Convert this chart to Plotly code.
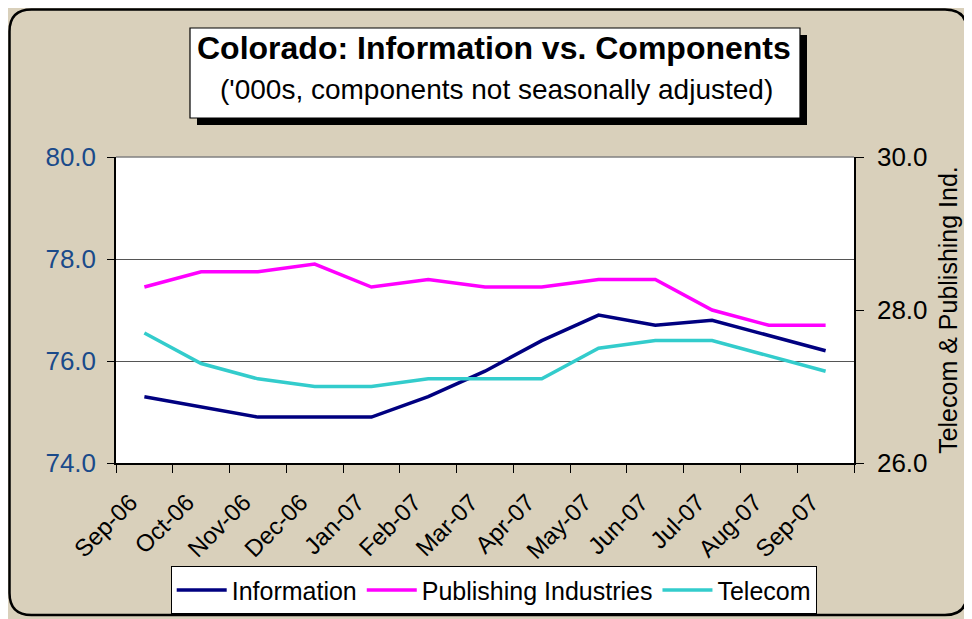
import plotly.graph_objects as go

months = ["Sep-06", "Oct-06", "Nov-06", "Dec-06", "Jan-07", "Feb-07", "Mar-07",
          "Apr-07", "May-07", "Jun-07", "Jul-07", "Aug-07", "Sep-07"]
information = [75.3, 75.1, 74.9, 74.9, 74.9, 75.3, 75.8, 76.4, 76.9, 76.7, 76.8, 76.5, 76.2]
publishing = [28.3, 28.5, 28.5, 28.6, 28.3, 28.4, 28.3, 28.3, 28.4, 28.4, 28.0, 27.8, 27.8]
telecom = [27.7, 27.3, 27.1, 27.0, 27.0, 27.1, 27.1, 27.1, 27.5, 27.6, 27.6, 27.4, 27.2]

# the page puts the figure 8px in from the top-left corner
OFF = 8
W, H = 964, 611
L, R, T, B = 116, 854, 157, 463  # plot area, page pixels
BG = "#d9d0bb"
FONT = "Liberation Sans, Arial, sans-serif"


def px(x):
    return (x - L) / (R - L)


def py(y):
    return (B - y) / (B - T)


fig = go.Figure()
fig.add_trace(go.Scatter(x=months, y=information, name="Information", mode="lines",
                         line=dict(color="#000080", width=3.5)))
fig.add_trace(go.Scatter(x=months, y=publishing, name="Publishing Industries", mode="lines",
                         line=dict(color="#ff00ff", width=3.5), yaxis="y2"))
fig.add_trace(go.Scatter(x=months, y=telecom, name="Telecom", mode="lines",
                         line=dict(color="#33cccc", width=3.5), yaxis="y2"))

# outer rounded frame
r = 22
x0, y0, x1, y1 = OFF + 1.5, OFF + 1.5, 967, 615
frame = (f"M {px(x0 + r)},{py(y0)} L {px(x1 - r)},{py(y0)} "
         f"Q {px(x1)},{py(y0)} {px(x1)},{py(y0 + r)} L {px(x1)},{py(y1 - r)} "
         f"Q {px(x1)},{py(y1)} {px(x1 - r)},{py(y1)} L {px(x0 + r)},{py(y1)} "
         f"Q {px(x0)},{py(y1)} {px(x0)},{py(y1 - r)} L {px(x0)},{py(y0 + r)} "
         f"Q {px(x0)},{py(y0)} {px(x0 + r)},{py(y0)} Z")

shapes = [
    dict(type="path", path=frame, xref="paper", yref="paper",
         line=dict(color="black", width=2.5), layer="below"),
    # title box shadow and box
    dict(type="rect", xref="paper", yref="paper",
         x0=px(197), x1=px(807), y0=py(125), y1=py(35),
         fillcolor="black", line=dict(width=0)),
    dict(type="rect", xref="paper", yref="paper",
         x0=px(190), x1=px(800), y0=py(118), y1=py(28),
         fillcolor="white", line=dict(color="black", width=1.2)),
    # top border of plot area
    dict(type="line", xref="paper", yref="paper", x0=0, x1=1, y0=1, y1=1,
         line=dict(color="#808080", width=1.5)),
]

annotations = [
    dict(text="<b>Colorado: Information vs. Components</b>", xref="paper", yref="paper",
         x=px(494), y=py(48), xanchor="center", yanchor="middle", showarrow=False,
         font=dict(size=32, color="black", family=FONT)),
    dict(text="('000s, components not seasonally adjusted)", xref="paper", yref="paper",
         x=px(496), y=py(90), xanchor="center", yanchor="middle", showarrow=False,
         font=dict(size=28, color="black", family=FONT)),
]

fig.update_layout(
    width=W, height=H,
    margin=dict(l=L - OFF, r=W + OFF - R, t=T - OFF, b=H + OFF - B, autoexpand=False),
    paper_bgcolor=BG, plot_bgcolor="white",
    font=dict(family=FONT, color="black"),
    shapes=shapes, annotations=annotations,
    xaxis=dict(type="category", range=[-0.5, 12.5], tickson="boundaries",
               ticks="outside", ticklen=8, tickcolor="black", tickangle=-45,
               tickfont=dict(size=24), showline=True, linecolor="black", linewidth=1.5,
               showgrid=False, zeroline=False, ticklabelstandoff=14, ticklabelshift=-14,
               automargin=False),
    yaxis=dict(range=[74, 80], dtick=2, tickformat=".1f", ticks="outside", ticklen=7,
               tickcolor="black", tickfont=dict(size=26, color="#1a4a8a"),
               showline=True, linecolor="black", linewidth=1.5,
               showgrid=True, gridcolor="#555555", gridwidth=1, zeroline=False,
               ticklabelstandoff=6, automargin=False),
    yaxis2=dict(range=[26, 30], dtick=2, tickformat=".1f", overlaying="y", side="right",
                ticks="outside", ticklen=8, tickcolor="black", tickfont=dict(size=26),
                showline=True, linecolor="black", linewidth=1.5, showgrid=False,
                zeroline=False, ticklabelstandoff=8, automargin=False,
                title=dict(text="Telecom & Publishing Ind.", font=dict(size=25), standoff=13)),
    legend=dict(orientation="h", x=px(494), xanchor="center", y=py(590), yanchor="middle",
                bgcolor="white", bordercolor="black", borderwidth=1.2,
                font=dict(size=25), itemwidth=50, traceorder="normal"),
    showlegend=True,
)

fig.write_html("out.html")
